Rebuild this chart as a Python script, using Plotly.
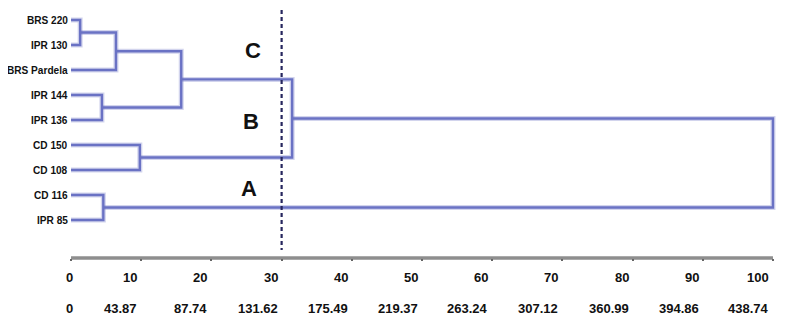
import plotly.graph_objects as go

# ---- data ----
leaves = ["BRS 220", "IPR 130", "BRS Pardela", "IPR 144", "IPR 136",
          "CD 150", "CD 108", "CD 116", "IPR 85"]
# merges: (left node, right node, height in % of max distance); new node ids start at len(leaves)
merge_left = [0, 9, 3, 10, 5, 12, 7, 14]
merge_right = [1, 2, 4, 11, 6, 13, 8, 15]
merge_height = [1.3, 6.4, 4.4, 15.7, 9.8, 31.5, 4.6, 100.0]

scale_ticks = [0, 10, 20, 30, 40, 50, 60, 70, 80, 90, 100]
scale_labels = ["0", "10", "20", "30", "40", "50", "60", "70", "80", "90", "100"]
dist_labels = ["0", "43.87", "87.74", "131.62", "175.49", "219.37", "263.24",
               "307.12", "360.99", "394.86", "438.74"]
cut_value = 30
cluster_names = ["C", "B", "A"]

# ---- geometry from linkage ----
node_y = {i: float(i) for i in range(len(leaves))}
node_h = {i: 0.0 for i in range(len(leaves))}
xs, ys = [], []
for k, (a, b, h) in enumerate(zip(merge_left, merge_right, merge_height)):
    nid = len(leaves) + k
    xs += [node_h[a], h, h, node_h[b], None]
    ys += [node_y[a], node_y[a], node_y[b], node_y[b], None]
    node_y[nid] = (node_y[a] + node_y[b]) / 2
    node_h[nid] = h

LINE = "#6a72c4"
FONT = "Liberation Sans, Arial, sans-serif"

fig = go.Figure()
# soft halo + core line
fig.add_trace(go.Scatter(x=xs, y=ys, mode="lines",
                         line=dict(color="rgba(106,114,196,0.30)", width=5),
                         hoverinfo="skip", showlegend=False))
fig.add_trace(go.Scatter(x=xs, y=ys, mode="lines",
                         line=dict(color=LINE, width=2.4),
                         hoverinfo="skip", showlegend=False))

# cut line
fig.add_shape(type="line", xref="x", yref="y", x0=cut_value, x1=cut_value,
              y0=-0.4, y1=9.2,
              line=dict(color="#26265e", width=2.2, dash="4px,3px"))

# axis line
fig.add_shape(type="line", xref="x", yref="paper", x0=scale_ticks[0], x1=scale_ticks[-1],
              y0=0, y1=0, line=dict(color="#8e8e8e", width=3.5), layer="below")

ann = []
for i, name in enumerate(leaves):
    ann.append(dict(x=0, y=i, xref="x", yref="y", text=name, showarrow=False,
                    xanchor="right", yanchor="middle", xshift=-1,
                    font=dict(family=FONT, size=10.1, color="#111111", weight="bold")))
for t, l1, l2 in zip(scale_ticks, scale_labels, dist_labels):
    sh = -2 if t else 4
    ann.append(dict(x=t, y=0, xref="x", yref="paper", text=l1, showarrow=False,
                    xanchor="right", yanchor="middle", xshift=sh, yshift=-19,
                    font=dict(family=FONT, size=13, color="#111111", weight="bold")))
    ann.append(dict(x=t, y=0, xref="x", yref="paper", text=l2, showarrow=False,
                    xanchor="right", yanchor="middle", xshift=sh, yshift=-50,
                    font=dict(family=FONT, size=13, color="#111111", weight="bold")))
cl_pos = [(25.9, 1.2), (25.6, 4.05), (25.4, 6.75)]
for name, (cx, cy) in zip(cluster_names, cl_pos):
    ann.append(dict(x=cx, y=cy, xref="x", yref="y", text=name, showarrow=False,
                    xanchor="center", yanchor="middle",
                    font=dict(family=FONT, size=22, color="#111111", weight="bold")))

# page body has an 8px margin; figure sized/positioned to compensate
fig.update_layout(
    width=787, height=317,
    margin=dict(l=49, r=8, t=0, b=67),
    paper_bgcolor="white", plot_bgcolor="white",
    showlegend=False,
    xaxis=dict(range=[-2, 102], tickvals=scale_ticks, showticklabels=False,
               ticks="outside", ticklen=2, tickwidth=1.5, tickcolor="#666666",
               showgrid=False, zeroline=False, showline=False, fixedrange=True),
    yaxis=dict(range=[9.52, -0.48], showticklabels=False, showgrid=False,
               zeroline=False, showline=False, ticks="", fixedrange=True),
    annotations=ann,
)
fig.write_html("out.html")
